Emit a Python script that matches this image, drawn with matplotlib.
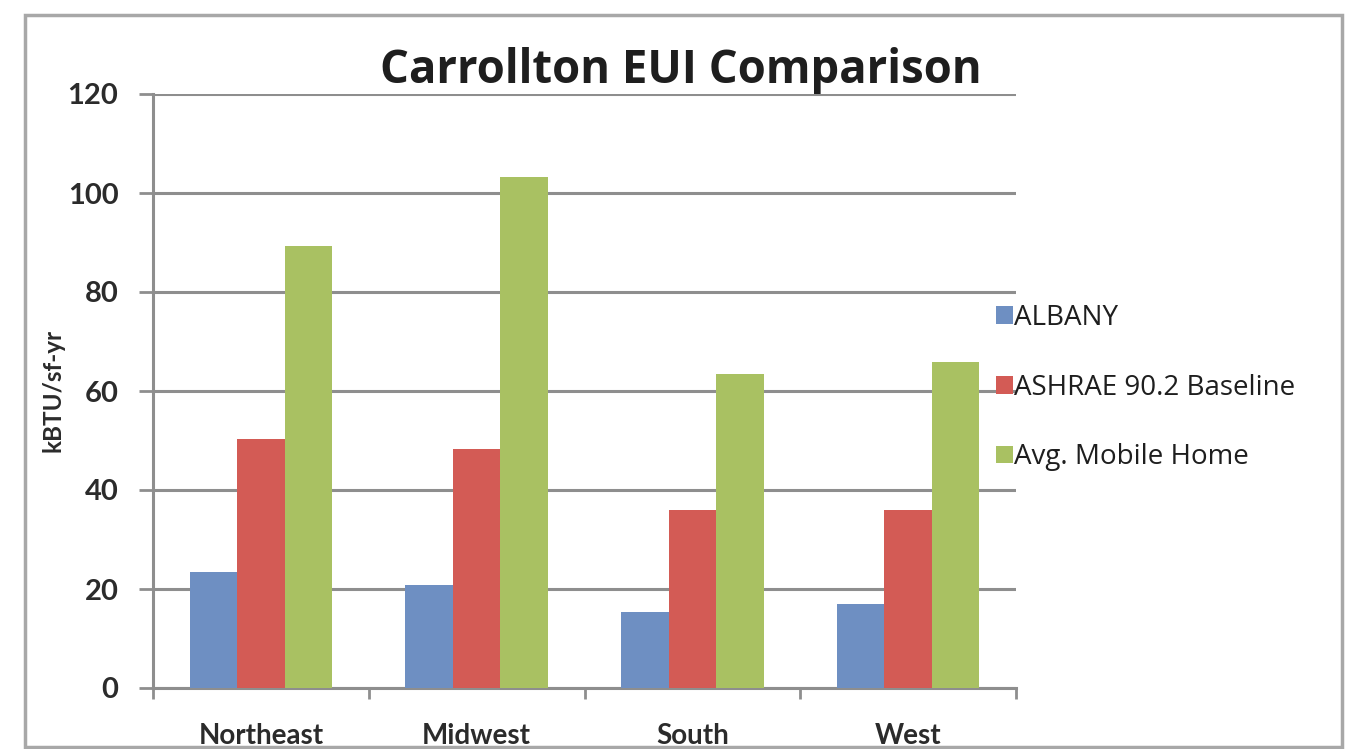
import numpy as np
import matplotlib.pyplot as plt
from matplotlib.patches import Rectangle

# values (kBTU/sf-yr)
regions = ['Northeast', 'Midwest', 'South', 'West']
series_names = ['ALBANY', 'ASHRAE 90.2 Baseline', 'Avg. Mobile Home']
albany = [23.5, 20.8, 15.4, 17.0]
ashrae = [50.3, 48.3, 36.0, 36.0]
mobile_home = [89.3, 103.2, 63.5, 65.8]

colors = ['#6E8FC2', '#D35B55', '#A9C162']
grid_color = '#8E8E8E'

W, H = 1353, 749
fig = plt.figure(figsize=(W / 100, H / 100), dpi=100)

# axes box in pixel terms: x 153..1016, y 94..688 (from top)
ax = fig.add_axes([153 / W, 1 - 688 / H, (1016 - 153) / W, (688 - 94) / H])

x = np.arange(len(regions))
width = 0.22
for i, (vals, name) in enumerate(zip([albany, ashrae, mobile_home], series_names)):
    ax.bar(x + (i - 1) * width, vals, width, color=colors[i], label=name, zorder=3)

ax.set_xlim(-0.5, len(regions) - 0.5)
ax.set_ylim(0, 120)
ax.set_yticks(range(0, 121, 20))
ax.yaxis.grid(True, color=grid_color, linewidth=2.2, zorder=0)

# boundary ticks between categories, labels in the middle
ax.set_xticks(np.arange(-0.5, len(regions), 1.0))
ax.set_xticklabels([])
ax.set_xticks(x, minor=True)
ax.set_xticklabels(regions, minor=True)
ax.tick_params(axis='x', which='major', length=8, width=2, color=grid_color, direction='out')
ax.tick_params(axis='x', which='minor', length=0, pad=25)
ax.tick_params(axis='y', length=10, width=2, color=grid_color, pad=15)

for lab in ax.get_yticklabels():
    lab.set(family='Lato', weight='bold', size=21, color='#2B2B2B')
for lab in ax.get_xticklabels(minor=True):
    lab.set(family='Lato', weight='bold', size=20, color='#2B2B2B')

for side in ['top', 'right']:
    ax.spines[side].set_visible(False)
for side in ['left', 'bottom']:
    ax.spines[side].set_color(grid_color)
    ax.spines[side].set_linewidth(2.2)

fig.text(53 / W, 1 - 390 / H, 'kBTU/sf-yr', rotation=90, ha='center', va='center',
         family='Lato', weight='bold', size=17.5, color='#2B2B2B')

fig.text(681 / W, 1 - 83 / H, 'Carrollton EUI Comparison', ha='center', va='baseline',
         family='Open Sans', weight='bold', size=32.8, color='#1E1E1E')

leg = ax.legend(loc='upper left', bbox_to_anchor=(982 / W, 1 - 290 / H),
                bbox_transform=fig.transFigure, frameon=False, borderpad=0,
                handlelength=0.6, handleheight=0.6, handletextpad=0.05,
                labelspacing=1.5, prop=dict(family='Open Sans', size=20))
for t in leg.get_texts():
    t.set_color('#1E1E1E')

# outer frame around the whole chart
fig.patches.append(Rectangle((25 / W, 1 - 747 / H), (1342 - 25) / W, (747 - 15) / H,
                             transform=fig.transFigure, fill=False,
                             edgecolor='#A8A8A8', linewidth=2.5))

fig.savefig('out.png', dpi=100)
